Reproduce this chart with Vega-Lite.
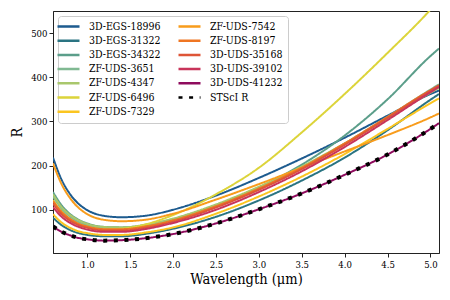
{
  "$schema": "https://vega.github.io/schema/vega-lite/v6.json",
  "autosize": {"type": "none"},
  "width": 386,
  "height": 242,
  "padding": {"left": 53, "top": 11, "right": 11, "bottom": 47},
  "background": "white",
  "config": {
    "font": "DejaVu Serif Condensed, DejaVu Serif",
    "view": {"stroke": "#222", "strokeWidth": 1},
    "axis": {"labelFont": "DejaVu Serif Condensed, DejaVu Serif", "labelFontSize": 9.5, "labelColor": "#000", "tickColor": "#222", "domainColor": "#222", "tickSize": 4, "titleFont": "DejaVu Serif Condensed, DejaVu Serif", "titleFontSize": 14.5, "titleFontWeight": "normal", "titleColor": "#000", "grid": false, "labelPadding": 2},
    "legend": {"orient": "top-left", "offset": 5, "columns": 2, "columnPadding": 12, "rowPadding": 3.2, "padding": 5, "strokeColor": "#cccccc", "fillColor": "white", "cornerRadius": 3, "labelFont": "DejaVu Serif Condensed, DejaVu Serif", "labelFontSize": 10.5, "labelColor": "#000", "symbolSize": 64, "symbolType": "M-2.75,0H2.75", "symbolStrokeWidth": 2.5, "labelOffset": 15, "titleFontSize": 0}
  },
  "data": {"values": [
    {"s":"3D-EGS-18996","x":0.6,"r":218},{"s":"3D-EGS-18996","x":0.7,"r":168},{"s":"3D-EGS-18996","x":0.8,"r":135},{"s":"3D-EGS-18996","x":0.9,"r":113},{"s":"3D-EGS-18996","x":1.0,"r":99},{"s":"3D-EGS-18996","x":1.2,"r":86},{"s":"3D-EGS-18996","x":1.4,"r":83},{"s":"3D-EGS-18996","x":1.7,"r":87},{"s":"3D-EGS-18996","x":2.0,"r":100},{"s":"3D-EGS-18996","x":2.5,"r":132},{"s":"3D-EGS-18996","x":3.0,"r":172},{"s":"3D-EGS-18996","x":3.5,"r":216},{"s":"3D-EGS-18996","x":4.0,"r":263},{"s":"3D-EGS-18996","x":4.5,"r":313},{"s":"3D-EGS-18996","x":5.0,"r":362},{"s":"3D-EGS-18996","x":5.1,"r":370},
    {"s":"3D-EGS-31322","x":0.6,"r":82},{"s":"3D-EGS-31322","x":0.7,"r":65},{"s":"3D-EGS-31322","x":0.8,"r":54},{"s":"3D-EGS-31322","x":0.9,"r":47},{"s":"3D-EGS-31322","x":1.0,"r":43},{"s":"3D-EGS-31322","x":1.2,"r":40},{"s":"3D-EGS-31322","x":1.4,"r":40},{"s":"3D-EGS-31322","x":1.7,"r":46},{"s":"3D-EGS-31322","x":2.0,"r":57},{"s":"3D-EGS-31322","x":2.5,"r":84},{"s":"3D-EGS-31322","x":3.0,"r":121},{"s":"3D-EGS-31322","x":3.5,"r":166},{"s":"3D-EGS-31322","x":4.0,"r":218},{"s":"3D-EGS-31322","x":4.5,"r":280},{"s":"3D-EGS-31322","x":5.0,"r":349},{"s":"3D-EGS-31322","x":5.1,"r":362},
    {"s":"3D-EGS-34322","x":0.6,"r":140},{"s":"3D-EGS-34322","x":0.7,"r":110},{"s":"3D-EGS-34322","x":0.8,"r":90},{"s":"3D-EGS-34322","x":0.9,"r":77},{"s":"3D-EGS-34322","x":1.0,"r":69},{"s":"3D-EGS-34322","x":1.2,"r":61},{"s":"3D-EGS-34322","x":1.4,"r":60},{"s":"3D-EGS-34322","x":1.7,"r":66},{"s":"3D-EGS-34322","x":2.0,"r":79},{"s":"3D-EGS-34322","x":2.5,"r":110},{"s":"3D-EGS-34322","x":3.0,"r":150},{"s":"3D-EGS-34322","x":3.5,"r":202},{"s":"3D-EGS-34322","x":4.0,"r":268},{"s":"3D-EGS-34322","x":4.5,"r":350},{"s":"3D-EGS-34322","x":5.0,"r":448},{"s":"3D-EGS-34322","x":5.1,"r":465},
    {"s":"ZF-UDS-3651","x":0.6,"r":130},{"s":"ZF-UDS-3651","x":0.7,"r":102},{"s":"ZF-UDS-3651","x":0.8,"r":84},{"s":"ZF-UDS-3651","x":0.9,"r":72},{"s":"ZF-UDS-3651","x":1.0,"r":65},{"s":"ZF-UDS-3651","x":1.2,"r":58},{"s":"ZF-UDS-3651","x":1.4,"r":58},{"s":"ZF-UDS-3651","x":1.7,"r":64},{"s":"ZF-UDS-3651","x":2.0,"r":77},{"s":"ZF-UDS-3651","x":2.5,"r":109},{"s":"ZF-UDS-3651","x":3.0,"r":149},{"s":"ZF-UDS-3651","x":3.5,"r":196},{"s":"ZF-UDS-3651","x":4.0,"r":250},{"s":"ZF-UDS-3651","x":4.5,"r":310},{"s":"ZF-UDS-3651","x":5.0,"r":372},{"s":"ZF-UDS-3651","x":5.1,"r":384},
    {"s":"ZF-UDS-4347","x":0.6,"r":135},{"s":"ZF-UDS-4347","x":0.7,"r":106},{"s":"ZF-UDS-4347","x":0.8,"r":88},{"s":"ZF-UDS-4347","x":0.9,"r":76},{"s":"ZF-UDS-4347","x":1.0,"r":68},{"s":"ZF-UDS-4347","x":1.2,"r":61},{"s":"ZF-UDS-4347","x":1.4,"r":60},{"s":"ZF-UDS-4347","x":1.7,"r":67},{"s":"ZF-UDS-4347","x":2.0,"r":80},{"s":"ZF-UDS-4347","x":2.5,"r":112},{"s":"ZF-UDS-4347","x":3.0,"r":152},{"s":"ZF-UDS-4347","x":3.5,"r":198},{"s":"ZF-UDS-4347","x":4.0,"r":250},{"s":"ZF-UDS-4347","x":4.5,"r":307},{"s":"ZF-UDS-4347","x":5.0,"r":365},{"s":"ZF-UDS-4347","x":5.1,"r":376},
    {"s":"ZF-UDS-6496","x":0.6,"r":122},{"s":"ZF-UDS-6496","x":0.7,"r":96},{"s":"ZF-UDS-6496","x":0.8,"r":79},{"s":"ZF-UDS-6496","x":0.9,"r":68},{"s":"ZF-UDS-6496","x":1.0,"r":62},{"s":"ZF-UDS-6496","x":1.2,"r":56},{"s":"ZF-UDS-6496","x":1.4,"r":57},{"s":"ZF-UDS-6496","x":1.7,"r":68},{"s":"ZF-UDS-6496","x":2.0,"r":88},{"s":"ZF-UDS-6496","x":2.5,"r":135},{"s":"ZF-UDS-6496","x":3.0,"r":195},{"s":"ZF-UDS-6496","x":3.5,"r":275},{"s":"ZF-UDS-6496","x":4.0,"r":362},{"s":"ZF-UDS-6496","x":4.5,"r":455},{"s":"ZF-UDS-6496","x":5.0,"r":553},{"s":"ZF-UDS-6496","x":5.1,"r":575},
    {"s":"ZF-UDS-7329","x":0.6,"r":90},{"s":"ZF-UDS-7329","x":0.7,"r":71},{"s":"ZF-UDS-7329","x":0.8,"r":59},{"s":"ZF-UDS-7329","x":0.9,"r":51},{"s":"ZF-UDS-7329","x":1.0,"r":47},{"s":"ZF-UDS-7329","x":1.2,"r":43},{"s":"ZF-UDS-7329","x":1.4,"r":43},{"s":"ZF-UDS-7329","x":1.7,"r":49},{"s":"ZF-UDS-7329","x":2.0,"r":60},{"s":"ZF-UDS-7329","x":2.5,"r":91},{"s":"ZF-UDS-7329","x":3.0,"r":130},{"s":"ZF-UDS-7329","x":3.5,"r":175},{"s":"ZF-UDS-7329","x":4.0,"r":226},{"s":"ZF-UDS-7329","x":4.5,"r":283},{"s":"ZF-UDS-7329","x":5.0,"r":341},{"s":"ZF-UDS-7329","x":5.1,"r":352},
    {"s":"ZF-UDS-7542","x":0.6,"r":205},{"s":"ZF-UDS-7542","x":0.7,"r":158},{"s":"ZF-UDS-7542","x":0.8,"r":126},{"s":"ZF-UDS-7542","x":0.9,"r":104},{"s":"ZF-UDS-7542","x":1.0,"r":90},{"s":"ZF-UDS-7542","x":1.2,"r":77},{"s":"ZF-UDS-7542","x":1.4,"r":74},{"s":"ZF-UDS-7542","x":1.7,"r":78},{"s":"ZF-UDS-7542","x":2.0,"r":91},{"s":"ZF-UDS-7542","x":2.5,"r":123},{"s":"ZF-UDS-7542","x":3.0,"r":158},{"s":"ZF-UDS-7542","x":3.5,"r":195},{"s":"ZF-UDS-7542","x":4.0,"r":232},{"s":"ZF-UDS-7542","x":4.5,"r":269},{"s":"ZF-UDS-7542","x":5.0,"r":309},{"s":"ZF-UDS-7542","x":5.1,"r":318},
    {"s":"ZF-UDS-8197","x":0.6,"r":120},{"s":"ZF-UDS-8197","x":0.7,"r":95},{"s":"ZF-UDS-8197","x":0.8,"r":79},{"s":"ZF-UDS-8197","x":0.9,"r":68},{"s":"ZF-UDS-8197","x":1.0,"r":62},{"s":"ZF-UDS-8197","x":1.2,"r":56},{"s":"ZF-UDS-8197","x":1.4,"r":56},{"s":"ZF-UDS-8197","x":1.7,"r":63},{"s":"ZF-UDS-8197","x":2.0,"r":76},{"s":"ZF-UDS-8197","x":2.5,"r":108},{"s":"ZF-UDS-8197","x":3.0,"r":148},{"s":"ZF-UDS-8197","x":3.5,"r":195},{"s":"ZF-UDS-8197","x":4.0,"r":250},{"s":"ZF-UDS-8197","x":4.5,"r":310},{"s":"ZF-UDS-8197","x":5.0,"r":370},{"s":"ZF-UDS-8197","x":5.1,"r":380},
    {"s":"3D-UDS-35168","x":0.6,"r":114},{"s":"3D-UDS-35168","x":0.7,"r":90},{"s":"3D-UDS-35168","x":0.8,"r":75},{"s":"3D-UDS-35168","x":0.9,"r":65},{"s":"3D-UDS-35168","x":1.0,"r":59},{"s":"3D-UDS-35168","x":1.2,"r":53},{"s":"3D-UDS-35168","x":1.4,"r":53},{"s":"3D-UDS-35168","x":1.7,"r":60},{"s":"3D-UDS-35168","x":2.0,"r":73},{"s":"3D-UDS-35168","x":2.5,"r":105},{"s":"3D-UDS-35168","x":3.0,"r":145},{"s":"3D-UDS-35168","x":3.5,"r":192},{"s":"3D-UDS-35168","x":4.0,"r":247},{"s":"3D-UDS-35168","x":4.5,"r":308},{"s":"3D-UDS-35168","x":5.0,"r":370},{"s":"3D-UDS-35168","x":5.1,"r":382},
    {"s":"3D-UDS-39102","x":0.6,"r":106},{"s":"3D-UDS-39102","x":0.7,"r":84},{"s":"3D-UDS-39102","x":0.8,"r":70},{"s":"3D-UDS-39102","x":0.9,"r":61},{"s":"3D-UDS-39102","x":1.0,"r":55},{"s":"3D-UDS-39102","x":1.2,"r":50},{"s":"3D-UDS-39102","x":1.4,"r":50},{"s":"3D-UDS-39102","x":1.7,"r":57},{"s":"3D-UDS-39102","x":2.0,"r":70},{"s":"3D-UDS-39102","x":2.5,"r":100},{"s":"3D-UDS-39102","x":3.0,"r":140},{"s":"3D-UDS-39102","x":3.5,"r":187},{"s":"3D-UDS-39102","x":4.0,"r":242},{"s":"3D-UDS-39102","x":4.5,"r":303},{"s":"3D-UDS-39102","x":5.0,"r":366},{"s":"3D-UDS-39102","x":5.1,"r":378},
    {"s":"3D-UDS-41232","x":0.6,"r":62},{"s":"3D-UDS-41232","x":0.7,"r":50},{"s":"3D-UDS-41232","x":0.8,"r":42},{"s":"3D-UDS-41232","x":0.9,"r":36},{"s":"3D-UDS-41232","x":1.0,"r":33},{"s":"3D-UDS-41232","x":1.2,"r":30},{"s":"3D-UDS-41232","x":1.4,"r":31},{"s":"3D-UDS-41232","x":1.7,"r":36},{"s":"3D-UDS-41232","x":2.0,"r":45},{"s":"3D-UDS-41232","x":2.5,"r":69},{"s":"3D-UDS-41232","x":3.0,"r":101},{"s":"3D-UDS-41232","x":3.5,"r":137},{"s":"3D-UDS-41232","x":4.0,"r":179},{"s":"3D-UDS-41232","x":4.5,"r":225},{"s":"3D-UDS-41232","x":5.0,"r":283},{"s":"3D-UDS-41232","x":5.1,"r":296},
    {"s":"STScI R","x":0.6,"r":62},{"s":"STScI R","x":0.7,"r":50},{"s":"STScI R","x":0.8,"r":42},{"s":"STScI R","x":0.9,"r":36},{"s":"STScI R","x":1.0,"r":33},{"s":"STScI R","x":1.2,"r":30},{"s":"STScI R","x":1.4,"r":31},{"s":"STScI R","x":1.7,"r":36},{"s":"STScI R","x":2.0,"r":45},{"s":"STScI R","x":2.5,"r":69},{"s":"STScI R","x":3.0,"r":101},{"s":"STScI R","x":3.5,"r":137},{"s":"STScI R","x":4.0,"r":179},{"s":"STScI R","x":4.5,"r":225},{"s":"STScI R","x":5.0,"r":283},{"s":"STScI R","x":5.1,"r":296}
  ]},
  "encoding": {
    "x": {"field": "x", "type": "quantitative", "title": "Wavelength (μm)", "scale": {"domain": [0.6, 5.1], "nice": false, "zero": false}, "axis": {"values": [1.0, 1.5, 2.0, 2.5, 3.0, 3.5, 4.0, 4.5, 5.0], "format": ".1f", "titlePadding": 4}},
    "y": {"field": "r", "type": "quantitative", "title": "R", "scale": {"domain": [2, 550], "nice": false, "zero": false}, "axis": {"values": [100, 200, 300, 400, 500], "titlePadding": 6}},
    "color": {"field": "s", "type": "nominal", "title": null, "scale": {
      "domain": ["3D-EGS-18996", "3D-EGS-31322", "3D-EGS-34322", "ZF-UDS-3651", "ZF-UDS-4347", "ZF-UDS-6496", "ZF-UDS-7329", "ZF-UDS-7542", "ZF-UDS-8197", "3D-UDS-35168", "3D-UDS-39102", "3D-UDS-41232", "STScI R"],
      "range": ["#1d5b8f", "#2a7482", "#5b9e8a", "#80b992", "#a9c76c", "#dcd43a", "#fbc520", "#f89c1c", "#ef7623", "#de5537", "#c8345a", "#8e0b5d", "#000000"]}},
    "strokeDash": {"field": "s", "type": "nominal", "title": null, "scale": {
      "domain": ["3D-EGS-18996", "3D-EGS-31322", "3D-EGS-34322", "ZF-UDS-3651", "ZF-UDS-4347", "ZF-UDS-6496", "ZF-UDS-7329", "ZF-UDS-7542", "ZF-UDS-8197", "3D-UDS-35168", "3D-UDS-39102", "3D-UDS-41232", "STScI R"],
      "range": [[1,0],[1,0],[1,0],[1,0],[1,0],[1,0],[1,0],[1,0],[1,0],[1,0],[1,0],[1,0],[4,6.6]]}}
  },
  "layer": [
    {"transform": [{"filter": "datum.s !== 'STScI R'"}], "mark": {"type": "line", "interpolate": "monotone", "strokeWidth": 2, "clip": true, "strokeCap": "butt"}},
    {"transform": [{"filter": "datum.s === 'STScI R'"}], "mark": {"type": "line", "interpolate": "monotone", "strokeWidth": 4, "clip": true, "strokeCap": "butt"}}
  ]
}
